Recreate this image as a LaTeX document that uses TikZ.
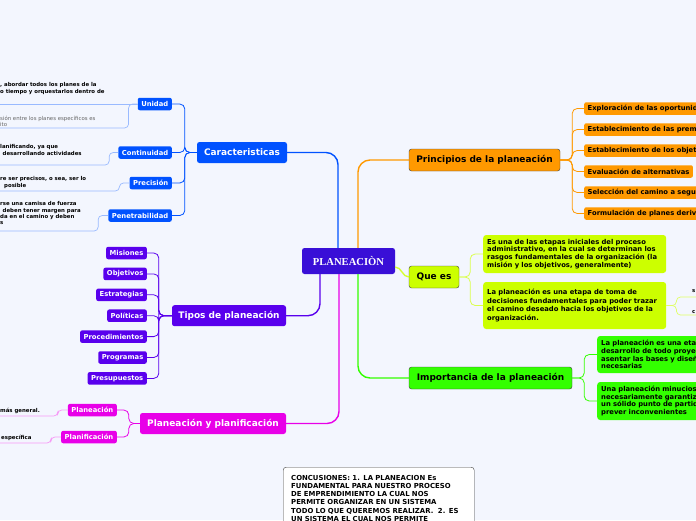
\documentclass[tikz,border=0pt]{standalone}
\usepackage{fontspec}
\setmainfont{DejaVu Sans}
\newfontfamily\rootfont{Liberation Serif}
\usepackage{tikz}
\definecolor{mapbg}{RGB}{243,246,254}
\definecolor{maproot}{RGB}{57,15,215}
\definecolor{mapblue}{RGB}{0,82,255}
\definecolor{maporange}{RGB}{255,153,0}
\definecolor{maplime}{RGB}{204,255,0}
\definecolor{mapgreen}{RGB}{51,255,0}
\definecolor{mappurple}{RGB}{89,0,237}
\definecolor{mapmagenta}{RGB}{232,0,232}
\newcommand{\mainsize}{\fontsize{9}{10}\selectfont}
\newcommand{\subsize}{\fontsize{6.8}{7.8}\selectfont}
\newcommand{\leafsize}{\fontsize{5.4}{6.2}\selectfont}

\begin{document}
\begin{tikzpicture}[x=1pt, y=-1pt, >=latex, font=\subsize,
	main/.style={rounded corners=2.5pt, minimum height=21pt, inner xsep=5pt, font=\mainsize\bfseries},
	sub/.style={rounded corners=2pt, minimum height=12.5pt, inner xsep=3.5pt, inner ysep=0pt, font=\subsize\bfseries},
	para/.style={rounded corners=3pt, align=left, inner xsep=4pt, font=\subsize\bfseries, text=black},
	leaf/.style={align=left, inner sep=0pt, font=\leafsize\bfseries, anchor=north west},
	link/.style={rounded corners=5pt, line width=0.8pt},
	trunk/.style={rounded corners=12pt, line width=1.4pt},
	leafline/.style={rounded corners=4pt, line width=0.7pt}]
				%Hintergrund
				\fill[mapbg] (0,0) rectangle (696,520);
				\useasboundingbox (0,0) rectangle (696,520);
				\clip (0,0) rectangle (696,520);
				% Hauptknoten
				\node[main, fill=maproot, text=white, font=\rootfont\fontsize{10.6}{12}\selectfont\bfseries, minimum width=93pt, minimum height=26pt] (root) at (348.5,261) {PLANEACIÒN};
				\node[main, fill=mapblue, text=white, minimum width=90pt] (car) at (242,152.5) {Caracteristicas};
				\node[main, fill=maporange, draw=black!75, minimum width=151pt, minimum height=22pt] (pri) at (484.5,160) {Principios de la planeación};
				\node[main, fill=maplime, draw=black!75, minimum width=50pt, minimum height=22pt] (que) at (434,277) {Que es};
				\node[main, fill=mapgreen, draw=black!75, minimum width=163pt, minimum height=22pt] (imp) at (490.5,378) {Importancia de la planeación};
				\node[main, fill=mappurple, text=white, minimum width=114pt] (tip) at (229,315.7) {Tipos de planeación};
				\node[main, fill=mapmagenta, text=white, minimum width=146pt] (pyp) at (213,423.5) {Planeación y planificación};
				% Verbindungen zum Zentrum
				\draw[trunk, mapblue] (car.east) -| ([xshift=-10.5pt]root.north);
				\draw[trunk, maporange] (pri.west) -| ([xshift=9.5pt]root.north);
				\draw[trunk, mapgreen] (imp.west) -| ([xshift=9.5pt]root.south);
				\draw[trunk, mappurple] (tip.east) -| ([xshift=-28.5pt]root.south);
				\draw[trunk, mapmagenta] (pyp.east) -| ([xshift=-9.5pt]root.south);
				\draw[trunk, maplime!80!white] ([yshift=-6pt]root.east) to[out=0, in=180] (que.west);
				% Principios
				\foreach \txt [count=\i] in {Exploración de las oportunidades, Establecimiento de las premisas, Establecimiento de los objetivos, Evaluación de alternativas, Selección del camino a seguir, Formulación de planes derivados} {
					\node[sub, fill=maporange, text=black, anchor=west] (pri\i) at (584,87.5+21*\i) {\txt};
					\draw[link, maporange] (pri.east) -- ++(12,0) |- (pri\i.west);
				}
				% Que es
				\node[para, fill=maplime, text width=175pt, minimum height=38pt, anchor=west] (que1) at (483,254) {Es una de las etapas iniciales del proceso\\administrativo, en la cual se determinan los\\rasgos fundamentales de la organización (la\\misión y los objetivos, generalmente)};
				\node[para, fill=maplime, text width=175pt, minimum height=47pt, anchor=west, font=\fontsize{6.8}{8.8}\selectfont\bfseries] (que2) at (483,305.5) {La planeación es una etapa de toma de\\decisiones fundamentales para poder trazar\\el camino deseado hacia los objetivos de la\\organización.};
				\draw[link, maplime!70!white] (que.east) -- ++(11,0) |- (que1.west);
				\draw[link, maplime!70!white] (que.east) -- ++(11,0) |- (que2.west);
				\node[leaf, anchor=base west] (que2a) at (692,292.5) {s};
				\node[leaf, anchor=base west] (que2b) at (692,313) {c};
				\coordinate (que2aend) at (700,297);
				\coordinate (que2bend) at (700,315);
				\draw[leafline, maplime!60!white] (que2.east) -- ++(10,0) |- (que2aend);
				\draw[leafline, maplime!60!white] (que2.east) -- ++(10,0) |- (que2bend);
				% Importancia
				\node[para, fill=mapgreen, text width=180pt, minimum height=37pt, anchor=west] (imp1) at (597,354.5) {La planeación es una etapa\\desarrollo de todo proyecto\\asentar las bases y diseñar\\necesarias};
				\node[para, fill=mapgreen, text width=180pt, minimum height=38pt, anchor=west] (imp2) at (597,401) {Una planeación minuciosa\\necesariamente garantiza\\un sólido punto de partida\\prever inconvenientes};
				\draw[link, mapgreen] (imp.east) -- ++(12,0) |- (imp1.west);
				\draw[link, mapgreen] (imp.east) -- ++(12,0) |- (imp2.west);
				% Caracteristicas
				\node[sub, fill=mapblue, text=white, anchor=east] (uni) at (172,104) {Unidad};
				\node[sub, fill=mapblue, text=white, anchor=east] (con) at (172,152.5) {Continuidad};
				\node[sub, fill=mapblue, text=white, anchor=east] (pre) at (172,183) {Precisión};
				\node[sub, fill=mapblue, text=white, anchor=east] (pen) at (172,215.5) {Penetrabilidad};
				\foreach \n in {uni,con,pre,pen} \draw[link, mapblue] (car.west) -- ++(-12,0) |- (\n.east);
				\node[leaf] (uni1) at (0,82.5) {, abordar todos los planes de la\\o tiempo y orquestarlos dentro de};
				\node[leaf, font=\leafsize, text=black!60] (uni2) at (0,115.5) {sión entre los planes específicos es\\ito};
				\node[leaf] (con1) at (0,144.5) {lanificando, ya que\\\hspace*{2.5pt}desarrollando actividades};
				\node[leaf] (pre1) at (0,176.5) {re ser precisos, o sea, ser lo\\\hspace*{4pt}posible};
				\node[leaf] (pen1) at (0,201.5) {rse una camisa de fuerza\\\hspace*{2.5pt}deben tener margen para\\da en el camino y deben\\s};
				\coordinate (uni1end) at (-3,104);
				\coordinate (uni2end) at (-3,128);
				\coordinate (con1end) at (-3,165);
				\coordinate (pre1end) at (-3,191);
				\coordinate (pen1end) at (-3,231);
				\draw[leafline, mapblue!40] (uni.west) -- (uni1end);
				\draw[leafline, mapblue!40] (uni.west) -- ++(-9,0) |- (uni2end);
				\draw[leafline, mapblue!40] (con.west) -- ++(-9,0) |- (con1end);
				\draw[leafline, mapblue!40] (pre.west) -- ++(-10,0) |- (pre1end);
				\draw[leafline, mapblue!40] (pen.west) -- ++(-10,0) |- (pen1end);
				% Tipos de planeacion
				\foreach \txt [count=\i] in {Misiones, Objetivos, Estrategias, Políticas, Procedimientos, Programas, Presupuestos} {
					\node[sub, fill=mappurple, text=white, anchor=east] (tip\i) at (147,232.1+20.9*\i) {\txt};
					\draw[link, mappurple] (tip.west) -- ++(-13,0) |- (tip\i.east);
				}
				% Planeacion y planificacion
				\node[sub, fill=mapmagenta, text=white, anchor=east] (pla) at (117,410) {Planeación};
				\node[sub, fill=mapmagenta, text=white, anchor=east] (plf) at (117,437) {Planificación};
				\draw[link, mapmagenta] (pyp.west) -- ++(-11,0) |- (pla.east);
				\draw[link, mapmagenta] (pyp.west) -- ++(-11,0) |- (plf.east);
				\node[leaf] (pla1) at (0,407.5) {más general.};
				\node[leaf] (plf1) at (1,434.5) {específica};
				\coordinate (pla1end) at (-3,416);
				\coordinate (plf1end) at (-3,443);
				\draw[leafline, mapmagenta!40] (pla.west) -- ++(-10,0) |- (pla1end);
				\draw[leafline, mapmagenta!40] (plf.west) -- ++(-10,0) |- (plf1end);
				% Conclusiones
				\node[para, fill=white, draw=black!75, text width=175pt, inner xsep=8pt, inner ysep=8pt, text depth=60pt, anchor=north west, font=\fontsize{6.9}{8.2}\selectfont\bfseries] (concl) at (283,467) {CONCUSIONES: 1. LA PLANEACION Es\\FUNDAMENTAL PARA NUESTRO PROCESO\\DE EMPRENDIMIENTO LA CUAL NOS\\PERMITE ORGANIZAR EN UN SISTEMA\\TODO LO QUE QUEREMOS REALIZAR.~~2. ES\\UN SISTEMA EL CUAL NOS PERMITE};
\end{tikzpicture}
\end{document}
